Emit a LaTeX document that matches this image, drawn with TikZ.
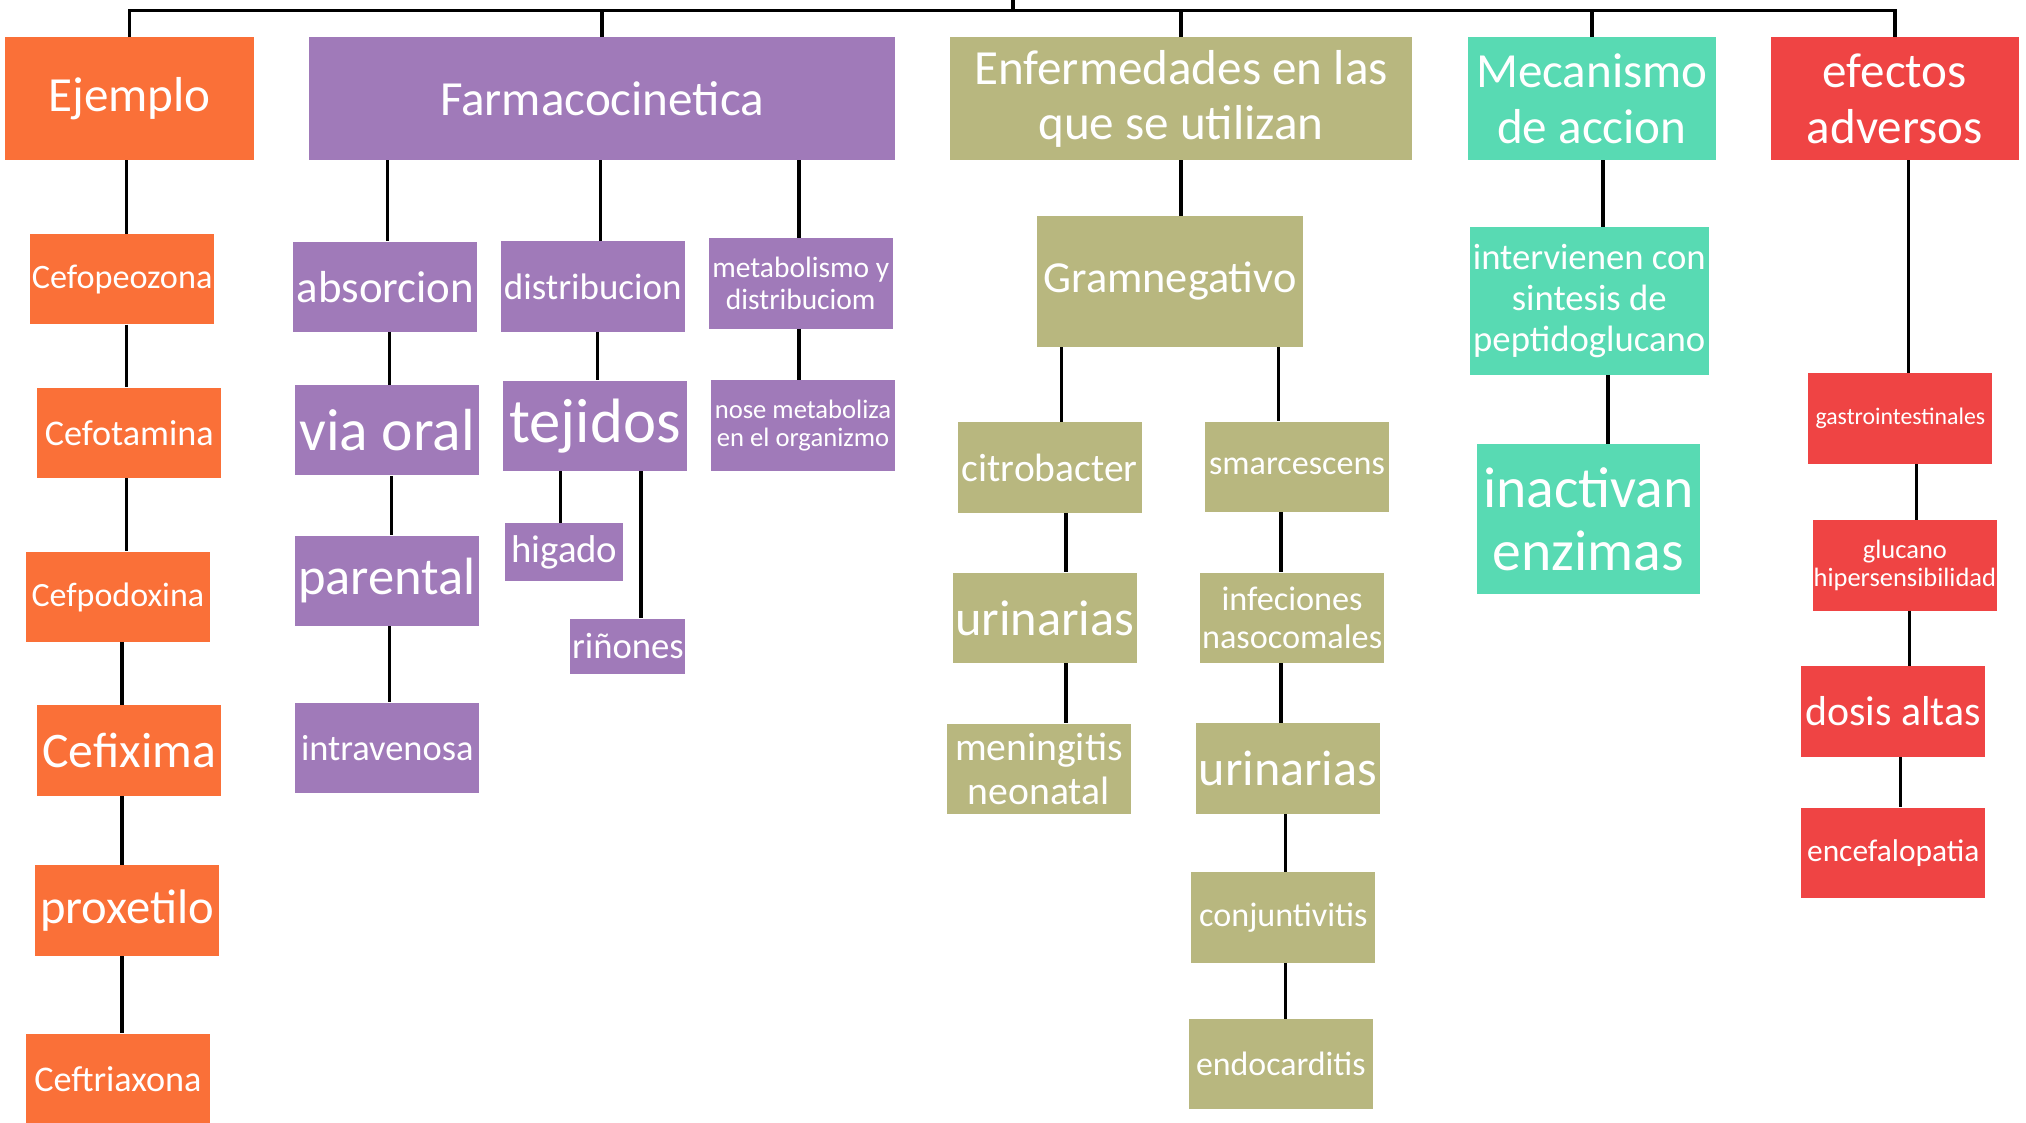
\documentclass[tikz,border=0pt]{standalone}
\usepackage{fontspec}
\setmainfont{Carlito}
\definecolor{naranja}{HTML}{FA7038}
\definecolor{morado}{HTML}{A07AB9}
\definecolor{oliva}{HTML}{B8B77F}
\definecolor{turquesa}{HTML}{58DAB3}
\definecolor{rojo}{HTML}{EF4444}
\newcommand{\fsz}[2]{\fontsize{#1}{#2}\selectfont}

\begin{document}
\begin{tikzpicture}[x=1pt, y=-1pt,
  caja/.style={rectangle, inner sep=0pt, text=white, align=center,
    minimum width=142.5, minimum height=70},
  titulo/.style={minimum height=95, font=\fsz{38}{43}},
  ej/.style={caja, fill=naranja},
  fc/.style={caja, fill=morado},
  enf/.style={caja, fill=oliva},
  mec/.style={caja, fill=turquesa},
  ef/.style={caja, fill=rojo},
  linea/.style={line width=2.6pt}]

\useasboundingbox (0,0) rectangle (1568,869);

% titulos
\node[ej, titulo, minimum width=192.5] (ejemplo) at (100.25,76.5) {Ejemplo};
\node[fc, titulo, minimum width=453] (farmaco) at (466,76.5) {Farmacocinetica};
\node[enf, titulo, minimum width=358] (enfermedades) at (914,76.5) {Enfermedades en las\\que se utilizan};
\node[mec, titulo, minimum width=192] (mecanismo) at (1232,76.5) {Mecanismo\\de accion};
\node[ef, titulo, minimum width=192] (efectos) at (1466.5,76.5) {efectos\\adversos};

% ejemplo
\node[ej, font=\fsz{26.5}{30}] (cefopeozona) at (94.5,216) {Cefopeozona};
\node[ej, font=\fsz{28}{32}] (cefotamina) at (100,335) {Cefotamina};
\node[ej, font=\fsz{26.3}{30}] (cefpodoxina) at (91.25,462) {Cefpodoxina};
\node[ej, font=\fsz{38.5}{44}] (cefixima) at (100,580.7) {Cefixima};
\node[ej, font=\fsz{37.6}{43}] (proxetilo) at (98.25,704.8) {proxetilo};
\node[ej, font=\fsz{28}{32}] (ceftriaxona) at (91.25,835) {Ceftriaxona};

% farmacocinetica
\node[fc, font=\fsz{34.7}{40}] (absorcion) at (298.25,222) {absorcion};
\node[fc, font=\fsz{28.6}{33}] (distribucion) at (458.75,221.75) {distribucion};
\node[fc, font=\fsz{22.8}{24.5}] (metabolismo) at (619.75,219.35) {metabolismo y\\distribuciom};
\node[fc, font=\fsz{46}{52}] (viaoral) at (299.5,333) {via oral};
\node[fc, font=\fsz{48.5}{55}] (tejidos) at (460.5,329.5) {tejidos};
\node[fc, font=\fsz{20.6}{22}] (nose) at (621.5,329.3) {nose metaboliza\\en el organizmo};
\node[fc, font=\fsz{40.6}{46}] (parental) at (299.5,449.5) {parental};
\node[fc, font=\fsz{30}{34}, minimum width=91.5, minimum height=45] (higado) at (436.75,427.5) {higado};
\node[fc, font=\fsz{28.4}{32}, minimum width=89, minimum height=43] (rinones) at (486,500.25) {riñones};
\node[fc, font=\fsz{28.2}{32}] (intravenosa) at (299.75,578.85) {intravenosa};

% enfermedades
\node[enf, font=\fsz{34.3}{39}, minimum width=206, minimum height=101.7] (gramnegativo) at (905.5,217.85) {Gramnegativo};
\node[enf, font=\fsz{30.6}{35}] (citrobacter) at (812.5,361.8) {citrobacter};
\node[enf, font=\fsz{26.4}{30}] (smarcescens) at (1003.75,361.3) {smarcescens};
\node[enf, font=\fsz{39}{44}] (urinariasA) at (808.5,478.2) {urinarias};
\node[enf, font=\fsz{26.5}{29.7}] (infeciones) at (1000,478.2) {infeciones\\nasocomales};
\node[enf, font=\fsz{30.7}{34}] (meningitis) at (804,595) {meningitis\\neonatal};
\node[enf, font=\fsz{38.8}{44}] (urinariasB) at (996.75,594.8) {urinarias};
\node[enf, font=\fsz{26.4}{30}] (conjuntivitis) at (993.25,710) {conjuntivitis};
\node[enf, font=\fsz{26.2}{30}] (endocarditis) at (991.25,823.6) {endocarditis};

% mecanismo
\node[mec, font=\fsz{28.4}{31.5}, minimum width=185, minimum height=114.2] (intervienen) at (1230,232.9) {intervienen con\\sintesis de\\peptidoglucano};
\node[mec, font=\fsz{44.6}{49}, minimum width=172.5, minimum height=116.4] (inactivan) at (1229.25,401.8) {inactivan\\enzimas};

% efectos
\node[ef, font=\fsz{18.4}{21}] (gastro) at (1470.75,324) {gastrointestinales};
\node[ef, font=\fsz{20.5}{22}] (glucano) at (1474.25,437.5) {glucano\\hipersensibilidad};
\node[ef, font=\fsz{32.4}{37}] (dosis) at (1465.25,550.7) {dosis altas};
\node[ef, font=\fsz{24.3}{28}] (encefalopatia) at (1465.25,660) {encefalopatia};

% barra superior
\coordinate (barra) at (784,8);
\draw[linea] (barra) -- ++(0,-20);
\draw[linea] (ejemplo.north) -- (ejemplo.north |- barra) -- (efectos.north |- barra) -- (efectos.north);
\foreach \n in {farmaco, enfermedades, mecanismo}
  \draw[linea] (\n.north) -- (\n.north |- barra);

% conectores
\foreach \a/\b/\x in {ejemplo/cefopeozona/98, cefopeozona/cefotamina/98,
    cefotamina/cefpodoxina/98, cefpodoxina/cefixima/94.5,
    cefixima/proxetilo/94.5, proxetilo/ceftriaxona/94.5,
    farmaco/absorcion/300, farmaco/distribucion/464.5, farmaco/metabolismo/618.5,
    absorcion/viaoral/301.5, distribucion/tejidos/462.5, metabolismo/nose/618.5,
    viaoral/parental/303, tejidos/higado/434, tejidos/rinones/496,
    parental/intravenosa/301.5,
    enfermedades/gramnegativo/914, gramnegativo/citrobacter/821.5,
    gramnegativo/smarcescens/989.5, citrobacter/urinariasA/825,
    smarcescens/infeciones/991.5, urinariasA/meningitis/825,
    infeciones/urinariasB/991.5, urinariasB/conjuntivitis/995,
    conjuntivitis/endocarditis/995,
    mecanismo/intervienen/1240.5, intervienen/inactivan/1244.5,
    efectos/gastro/1477, gastro/glucano/1483, glucano/dosis/1478,
    dosis/encefalopatia/1471}
  \draw[linea] (\a.south -| \x,0) -- (\b.north -| \x,0);
\end{tikzpicture}
\end{document}
